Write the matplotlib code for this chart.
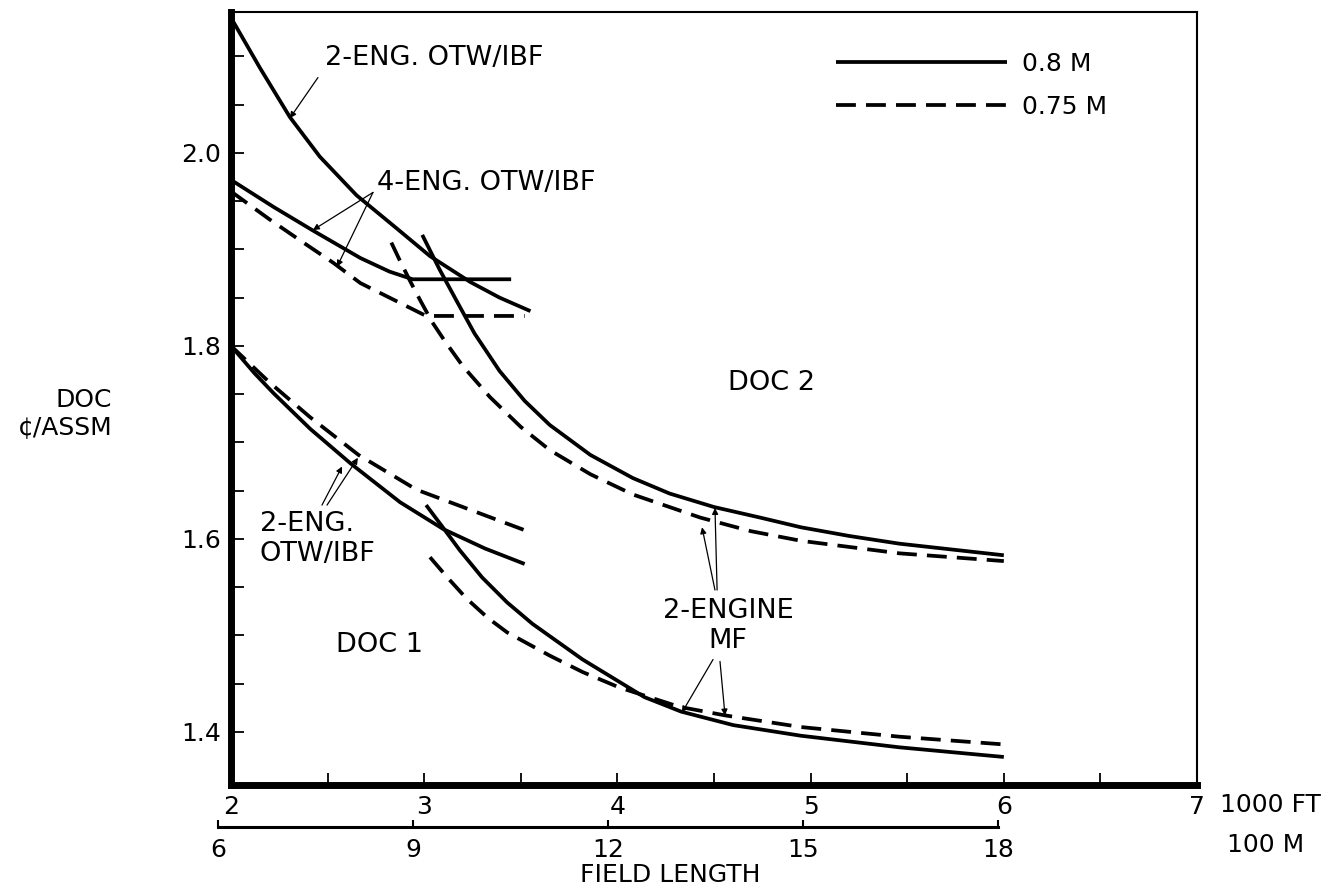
"""DOC vs field length, 2-eng / 4-eng OTW/IBF and 2-engine MF."""

import matplotlib

matplotlib.use("Agg")
import matplotlib.pyplot as plt  # noqa: E402

plt.rcParams["font.family"] = ["DejaVu Sans"]
plt.rcParams["font.size"] = 18

# field length in 1000 ft, DOC in cents / ASSM
upper2_fl_08 = [2.0, 2.15, 2.305, 2.46, 2.65, 2.85, 3.03, 3.24, 3.39, 3.55]
upper2_doc_08 = [2.14, 2.088, 2.037, 1.996, 1.956, 1.923, 1.893, 1.866, 1.850, 1.836]

eng4_fl_08 = [2.0, 2.22, 2.42, 2.67, 2.82, 2.94, 3.45]
eng4_doc_08 = [1.972, 1.944, 1.920, 1.891, 1.877, 1.869, 1.869]
eng4_fl_075 = [2.0, 2.20, 2.36, 2.53, 2.67, 2.85, 3.01, 3.52]
eng4_doc_075 = [1.96, 1.931, 1.909, 1.886, 1.865, 1.847, 1.831, 1.831]

mf_hi_fl_08 = [2.99, 3.08, 3.175, 3.26, 3.39, 3.52, 3.65, 3.86, 4.08, 4.27,
               4.50, 4.74, 4.95, 5.20, 5.46, 6.0]
mf_hi_doc_08 = [1.915, 1.879, 1.844, 1.813, 1.774, 1.743, 1.718, 1.687, 1.663,
                1.647, 1.633, 1.622, 1.612, 1.603, 1.595, 1.583]
mf_hi_fl_075 = [2.83, 2.875, 2.93, 2.98, 3.04, 3.11, 3.20, 3.34, 3.50, 3.65,
                3.86, 4.08, 4.43, 4.69, 4.95, 5.46, 6.0]
mf_hi_doc_075 = [1.907, 1.888, 1.866, 1.847, 1.825, 1.804, 1.779, 1.747, 1.716,
                 1.692, 1.667, 1.646, 1.622, 1.608, 1.598, 1.585, 1.577]

lower2_fl_08 = [2.0, 2.12, 2.22, 2.41, 2.62, 2.875, 3.10, 3.315, 3.52]
lower2_doc_08 = [1.80, 1.772, 1.751, 1.714, 1.678, 1.638, 1.610, 1.590, 1.574]
lower2_fl_075 = [2.0, 2.20, 2.41, 2.66, 2.96, 3.24, 3.52]
lower2_doc_075 = [1.80, 1.762, 1.726, 1.687, 1.651, 1.630, 1.609]

mf_lo_fl_08 = [3.01, 3.10, 3.185, 3.30, 3.43, 3.56, 3.82, 4.14, 4.33, 4.60,
               4.95, 5.46, 6.0]
mf_lo_doc_08 = [1.635, 1.611, 1.588, 1.560, 1.534, 1.512, 1.475, 1.436, 1.421,
                1.407, 1.396, 1.384, 1.374]
mf_lo_fl_075 = [3.03, 3.12, 3.22, 3.33, 3.43, 3.65, 3.82, 4.01, 4.32, 4.56,
                4.95, 5.46, 6.0]
mf_lo_doc_075 = [1.581, 1.560, 1.538, 1.518, 1.503, 1.479, 1.462, 1.446, 1.426,
                 1.417, 1.405, 1.395, 1.387]

ft_ticks = [2, 3, 4, 5, 6, 7]
m_ticks = [6, 9, 12, 15, 18]
doc_ticks = [1.4, 1.6, 1.8, 2.0]

LW = 2.7
DASH = (5.3, 2.7)
NOTE_SIZE = 19.5

fig = plt.figure(figsize=(13.29, 8.92), dpi=100)
ax = fig.add_axes([0.1738, 0.12, 0.7269, 0.8666])

solid_kw = dict(color="black", lw=LW, solid_capstyle="butt",
                solid_joinstyle="round")
dash_kw = dict(color="black", lw=LW, dashes=DASH)

h08, = ax.plot(upper2_fl_08, upper2_doc_08, **solid_kw)
ax.plot(eng4_fl_08, eng4_doc_08, **solid_kw)
h075, = ax.plot(eng4_fl_075, eng4_doc_075, **dash_kw)
ax.plot(mf_hi_fl_08, mf_hi_doc_08, **solid_kw)
ax.plot(mf_hi_fl_075, mf_hi_doc_075, **dash_kw)
ax.plot(lower2_fl_08, lower2_doc_08, **solid_kw)
ax.plot(lower2_fl_075, lower2_doc_075, **dash_kw)
ax.plot(mf_lo_fl_08, mf_lo_doc_08, **solid_kw)
ax.plot(mf_lo_fl_075, mf_lo_doc_075, **dash_kw)

ax.set_xlim(2, 7)
ax.set_ylim(1.345, 2.146)

for side in ("left", "bottom"):
    ax.spines[side].set_linewidth(5)
for side in ("top", "right"):
    ax.spines[side].set_linewidth(1.5)

ax.set_xticks(ft_ticks, labels=[str(t) for t in ft_ticks])
ax.set_xticks([t + 0.5 for t in ft_ticks[:-1]], minor=True)
ax.set_yticks(doc_ticks, labels=[f"{t:.1f}" for t in doc_ticks])
ax.set_yticks([1.4 + 0.05 * i for i in range(15)], minor=True)
ax.tick_params(which="both", direction="in", length=9, width=1.3,
               top=False, right=False)
ax.tick_params(axis="x", pad=7)
ax.tick_params(axis="y", pad=7)

# metric scale bar (100 m) drawn under the ft scale
ax_m = fig.add_axes([218 / 1329, 65 / 892, 780 / 1329, 0.0001])
ax_m.set_xlim(m_ticks[0], m_ticks[-1])
ax_m.set_yticks([])
for side in ("left", "right", "top"):
    ax_m.spines[side].set_visible(False)
ax_m.spines["bottom"].set_linewidth(2.2)
ax_m.patch.set_visible(False)
ax_m.set_xticks(m_ticks, labels=[str(t) for t in m_ticks])
ax_m.tick_params(direction="in", length=5, width=1.5, pad=8)

ax.text(1.024, -0.026, "1000 FT", transform=ax.transAxes, ha="left", va="center")
ax.text(1.031, -0.078, "100 M", transform=ax.transAxes, ha="left", va="center")
ax.text(0.455, -0.117, "FIELD LENGTH", transform=ax.transAxes, ha="center",
        va="center")
ax.text(-0.123, 0.48, "DOC\n¢/ASSM", transform=ax.transAxes, ha="right",
        va="center", multialignment="right", linespacing=1.15)

ax.legend([h08, h075], ["0.8 M", "0.75 M"], loc="upper left",
          bbox_to_anchor=(0.626, 0.948), frameon=False, handlelength=6.85,
          handletextpad=0.6, labelspacing=0.75, borderpad=0, borderaxespad=0)

arrow = dict(arrowstyle="-|>", color="black", lw=0.9, shrinkA=0, shrinkB=0,
             mutation_scale=9)

ax.text(2.487, 2.098, "2-ENG. OTW/IBF", ha="left", va="center",
        fontsize=NOTE_SIZE)
ax.annotate("", xy=(2.305, 2.036), xytext=(2.45, 2.078), arrowprops=arrow)

ax.text(2.756, 1.969, "4-ENG. OTW/IBF", ha="left", va="center",
        fontsize=NOTE_SIZE)
ax.annotate("", xy=(2.424, 1.920), xytext=(2.735, 1.959), arrowprops=arrow)
ax.annotate("", xy=(2.549, 1.882), xytext=(2.735, 1.959), arrowprops=arrow)

ax.text(2.15, 1.600, "2-ENG.\nOTW/IBF", ha="left", va="center",
        linespacing=1.2, fontsize=NOTE_SIZE)
ax.annotate("", xy=(2.575, 1.675), xytext=(2.471, 1.635), arrowprops=arrow)
ax.annotate("", xy=(2.657, 1.684), xytext=(2.497, 1.635), arrowprops=arrow)

ax.text(2.771, 1.490, "DOC 1", ha="center", va="center", fontsize=NOTE_SIZE)
ax.text(4.80, 1.762, "DOC 2", ha="center", va="center", fontsize=NOTE_SIZE)

ax.text(4.572, 1.510, "2-ENGINE\nMF", ha="center", va="center",
        linespacing=1.2, fontsize=NOTE_SIZE)
ax.annotate("", xy=(4.438, 1.612), xytext=(4.505, 1.547), arrowprops=arrow)
ax.annotate("", xy=(4.505, 1.632), xytext=(4.516, 1.547), arrowprops=arrow)
ax.annotate("", xy=(4.334, 1.420), xytext=(4.495, 1.475), arrowprops=arrow)
ax.annotate("", xy=(4.557, 1.417), xytext=(4.531, 1.473), arrowprops=arrow)

fig.savefig("out.png", dpi=100, facecolor="white")
